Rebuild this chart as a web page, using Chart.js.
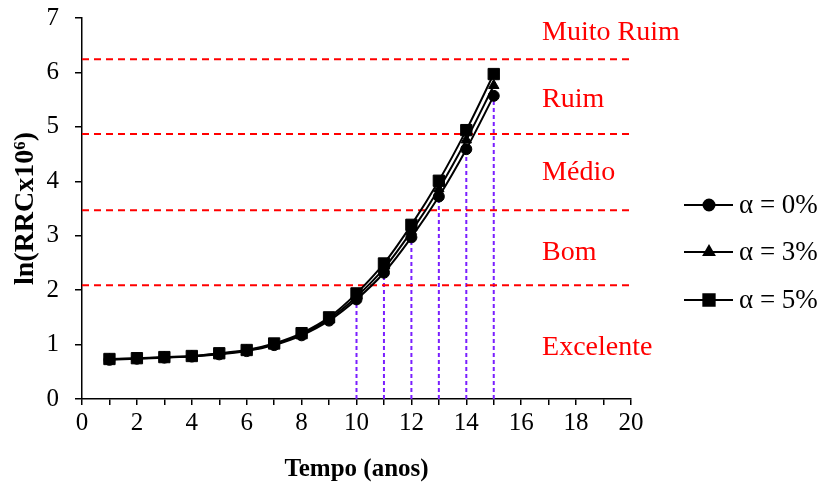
<!DOCTYPE html>
<html>
<head>
<meta charset="utf-8">
<script src="https://cdn.jsdelivr.net/npm/chart.js@4"></script>
<style>
  html, body { margin: 0; padding: 0; background: #fff; }
  #wrap { width: 827px; height: 486px; position: relative; }
</style>
</head>
<body>
<div id="wrap"><canvas id="chartRRC"></canvas></div>
<script>
/* ln(RRC x 10^6) ao longo do tempo, para tres taxas alfa */

const years   = [1, 2, 3, 4, 5, 6, 7, 8, 9, 10, 11, 12, 13, 14, 15];
const alpha0  = [0.72, 0.74, 0.76, 0.78, 0.82, 0.88, 0.99, 1.17, 1.44, 1.83, 2.32, 2.97, 3.72, 4.59, 5.57];
const alpha3  = [0.73, 0.745, 0.765, 0.785, 0.83, 0.89, 1.005, 1.19, 1.47, 1.88, 2.40, 3.08, 3.86, 4.76, 5.76];
const alpha5  = [0.735, 0.75, 0.77, 0.79, 0.84, 0.90, 1.02, 1.21, 1.50, 1.94, 2.49, 3.20, 4.01, 4.94, 5.97];
const seriesNames = ['α = 0%', 'α = 3%', 'α = 5%'];

// limites entre as classes e nome de cada faixa
const limits      = [2.09, 3.47, 4.87, 6.24];
const classNames  = ['Excelente', 'Bom', 'Médio', 'Ruim', 'Muito Ruim'];
const classLabelY = [0.81, 2.55, 4.02, 5.37, 6.60];
const classLabelX = 16.76;

// anos marcados com linha vertical ate a curva de alfa = 0%
const markedYears = [10, 11, 12, 13, 14, 15];

const C = {
    black:  '#000000',
    red:    '#FF0000',
    purple: '#7A1FFF',
};
const SERIF = "'Liberation Serif', 'Times New Roman', serif";

const toPts = (xs, ys) => xs.map((x, i) => ({ x, y: ys[i] }));

/* ── datasets ───────────────────────────────────────────────── */
const limitSets = limits.map(v => ({
    data: [{ x: 0, y: v }, { x: 20, y: v }],
    borderColor: C.red,
    borderWidth: 2,
    borderDash: [7, 5],
    pointRadius: 0,
    order: 5,
}));

const markerSets = markedYears.map(yr => ({
    data: [{ x: yr, y: 0 }, { x: yr, y: alpha0[years.indexOf(yr)] }],
    borderColor: C.purple,
    borderWidth: 2,
    borderDash: [4, 3],
    pointRadius: 0,
    order: 6,
}));

const styles = [
    { pointStyle: 'circle',   pointRadius: 5.5, order: 2 },
    { pointStyle: 'triangle', pointRadius: 6,   order: 1 },
    { pointStyle: 'rect',     pointRadius: 8,   order: 0 },
];

const curveSets = [alpha0, alpha3, alpha5].map((vals, i) => ({
    label: seriesNames[i],
    data: toPts(years, vals),
    borderColor: C.black,
    backgroundColor: C.black,
    borderWidth: 2,
    pointBorderWidth: 1,
    pointBorderColor: C.black,
    pointBackgroundColor: C.black,
    cubicInterpolationMode: 'monotone',
    ...styles[i],
}));

/* ── rotulos das faixas + legenda ───────────────────────────── */
const annotations = {
    id: 'annotations',
    afterDraw(chart) {
        const { ctx, scales: { x, y } } = chart;
        ctx.save();
        ctx.fillStyle = C.red;
        ctx.font = '28px ' + SERIF;
        ctx.textAlign = 'left';
        ctx.textBaseline = 'alphabetic';
        classNames.forEach((name, i) => {
            ctx.fillText(name, x.getPixelForValue(classLabelX), y.getPixelForValue(classLabelY[i]));
        });

        // legenda
        const rows = [205, 252, 300];
        ctx.font = '27px ' + SERIF;
        ctx.textBaseline = 'middle';
        curveSets.forEach((ds, i) => {
            const cy = rows[i];
            ctx.strokeStyle = C.black;
            ctx.lineWidth = 2;
            ctx.beginPath();
            ctx.moveTo(684, cy);
            ctx.lineTo(733, cy);
            ctx.stroke();
            ctx.fillStyle = C.black;
            Chart.helpers.drawPoint(ctx, {
                pointStyle: ds.pointStyle,
                radius: ds.pointRadius,
                borderWidth: 1,
                rotation: 0,
            }, 709, cy);
            ctx.fillStyle = C.black;
            ctx.fillText(ds.label, 739, cy + 1);
        });
        ctx.restore();
    }
};

const tickFont = { family: SERIF, size: 25 };

new Chart(document.getElementById('chartRRC'), {
    type: 'line',
    data: { datasets: [...limitSets, ...markerSets, ...curveSets] },
    options: {
        responsive: true,
        maintainAspectRatio: false,
        animation: false,
        layout: { padding: { top: 18, right: 196, bottom: 0, left: 0 } },
        plugins: {
            legend: { display: false },
            tooltip: { enabled: false },
        },
        scales: {
            x: {
                type: 'linear',
                min: 0, max: 20,
                afterFit: s => { s.height = 87; },
                ticks: {
                    stepSize: 1,
                    autoSkip: false,
                    maxRotation: 0,
                    color: C.black,
                    font: tickFont,
                    padding: 3,
                    callback: v => (v % 2 === 0 ? v : ''),
                },
                grid: { drawOnChartArea: false, drawTicks: true, tickLength: 6, color: C.black, lineWidth: 1.5 },
                border: { color: C.black, width: 1.5 },
                title: {
                    display: true,
                    text: 'Tempo (anos)',
                    color: C.black,
                    font: { family: SERIF, size: 25, weight: 'bold', lineHeight: 1.2 },
                    padding: { top: 0, bottom: 1 },
                },
            },
            y: {
                min: 0, max: 7,
                afterFit: s => { s.width = 82; s.paddingTop = 0; s.paddingBottom = 0; },
                ticks: {
                    stepSize: 1,
                    color: C.black,
                    font: tickFont,
                    padding: 16,
                },
                grid: { drawOnChartArea: false, drawTicks: true, tickLength: 7, color: C.black, lineWidth: 1.5 },
                border: { color: C.black, width: 1.5 },
                title: {
                    display: true,
                    text: 'ln(RRCx10⁶)',
                    color: C.black,
                    font: { family: SERIF, size: 28, weight: 'bold', lineHeight: 1.2 },
                    padding: { top: 9, bottom: 0 },
                },
            },
        },
    },
    plugins: [annotations],
});
</script>
</body>
</html>
